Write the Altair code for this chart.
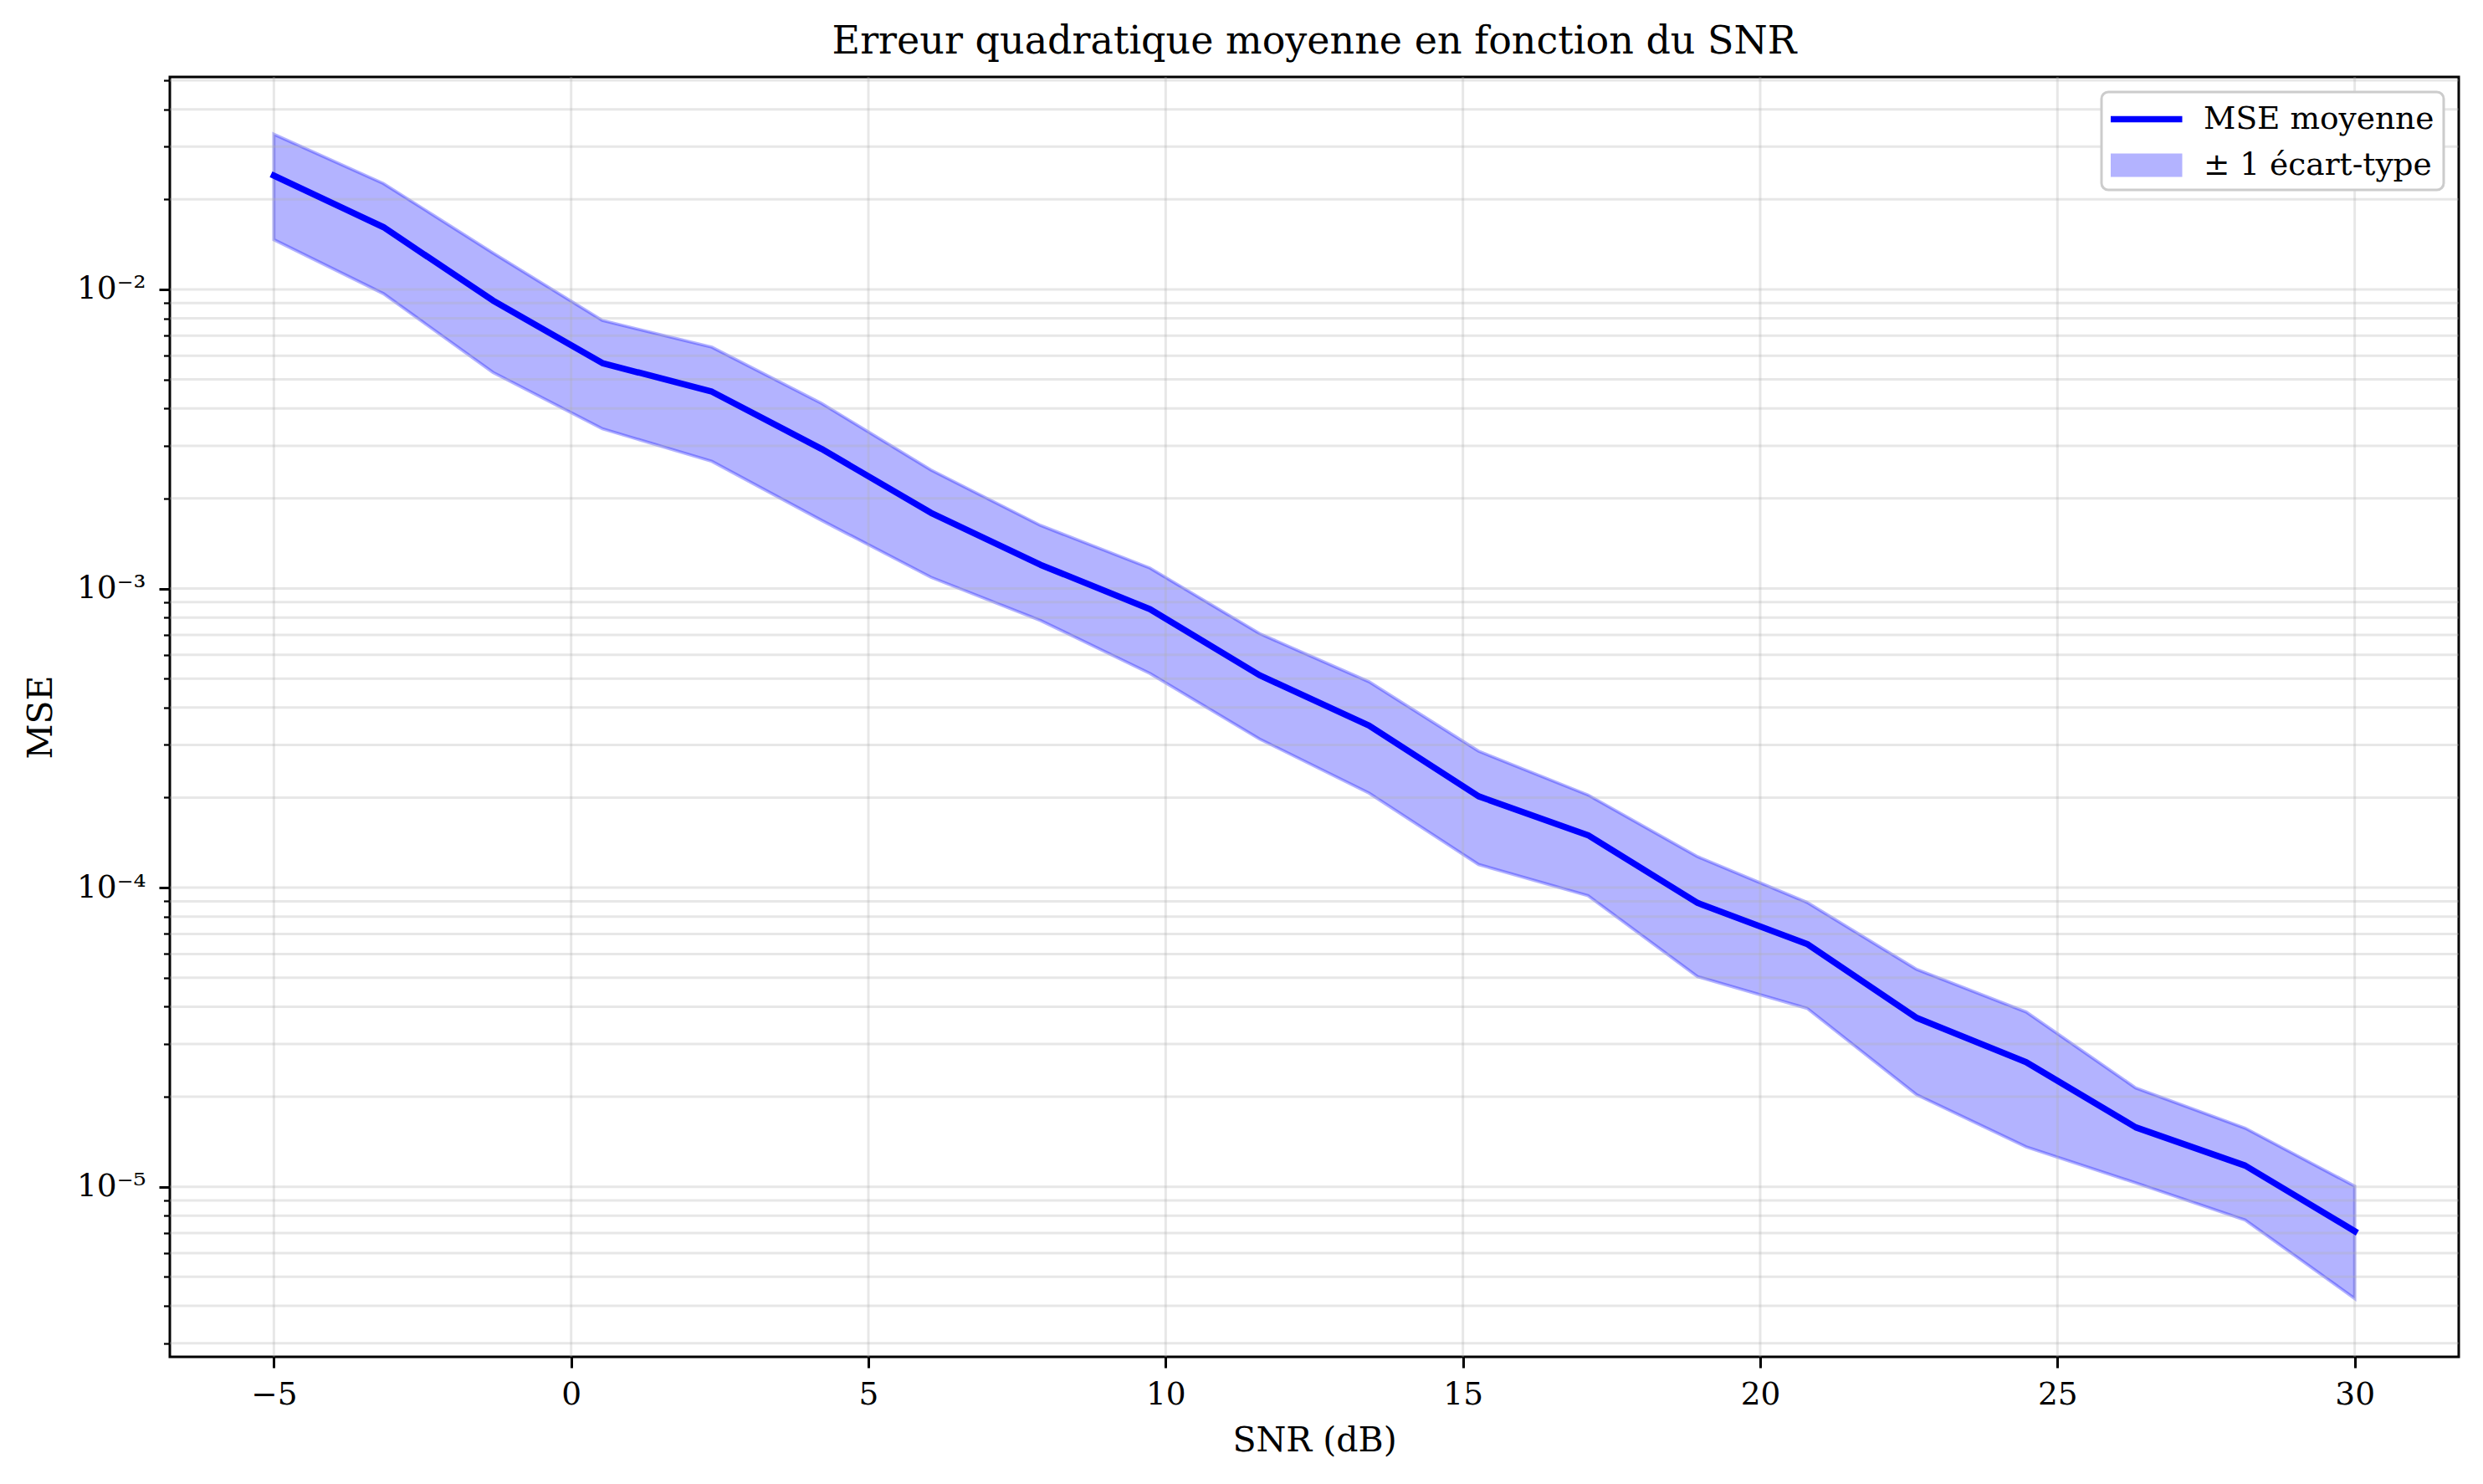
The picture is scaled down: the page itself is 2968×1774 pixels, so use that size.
import altair as alt
import pandas as pd

# valeurs (20 points de SNR)
snr_db = [-5.0, -3.158, -1.316, 0.526, 2.368, 4.211, 6.053, 7.895, 9.737, 11.579,
          13.421, 15.263, 17.105, 18.947, 20.789, 22.632, 24.474, 26.316, 28.158, 30.0]
mse_mean = [0.0240, 0.01615, 0.00918, 0.00567, 0.00455, 0.00293, 0.00179, 0.00120,
            0.000853, 0.000513, 0.000348, 0.000202, 0.0001497, 0.0000889, 0.0000648,
            0.0000367, 0.0000261, 0.0000158, 0.00001177, 0.0000071]
mse_upper = [0.0330, 0.0226, 0.01324, 0.00787, 0.00641, 0.00416, 0.00249, 0.001625,
             0.00117, 0.000707, 0.000488, 0.000286, 0.000204, 0.0001269, 0.0000893,
             0.0000533, 0.0000384, 0.0000214, 0.0000157, 0.00001005]
mse_lower = [0.01466, 0.00968, 0.00528, 0.00342, 0.00266, 0.00169, 0.00109, 0.000782,
             0.000520, 0.000314, 0.000207, 0.0001195, 0.0000940, 0.0000504, 0.0000395,
             0.0000203, 0.0000136, 0.0000103, 0.00000774, 0.00000423]

x_ticks = [-5, 0, 5, 10, 15, 20, 25, 30]
y_major = [1e-5, 1e-4, 1e-3, 1e-2]
y_minor = [3e-6, 4e-6, 5e-6, 6e-6, 7e-6, 8e-6, 9e-6,
           2e-5, 3e-5, 4e-5, 5e-5, 6e-5, 7e-5, 8e-5, 9e-5,
           2e-4, 3e-4, 4e-4, 5e-4, 6e-4, 7e-4, 8e-4, 9e-4,
           2e-3, 3e-3, 4e-3, 5e-3, 6e-3, 7e-3, 8e-3, 9e-3,
           2e-2, 3e-2, 4e-2, 5e-2]
y_ticks = sorted(y_major + y_minor)

series_names = ["MSE moyenne", "± 1 écart-type"]

FONT = "DejaVu Serif"
BLUE = "#0000ff"
BAND = "#b3b3ff"  # bleu à 30 % d'opacité sur fond blanc

df = pd.DataFrame({"snr": snr_db, "mse": mse_mean, "upper": mse_upper, "lower": mse_lower})
grid_y = pd.DataFrame({"mse": y_ticks})
grid_x = pd.DataFrame({"snr": x_ticks})

is_decade = "abs(log(datum.value) / LN10 - round(log(datum.value) / LN10)) < 0.001"
sup = "['⁰','¹','²','³','⁴','⁵','⁶','⁷','⁸','⁹']"
y_label = f"{is_decade} ? '10⁻' + {sup}[-round(log(datum.value) / LN10)] : ''"

x_scale = alt.Scale(domain=[-6.75, 31.75], nice=False, zero=False)
y_scale = alt.Scale(type="log", domain=[2.7e-6, 0.0513], nice=False)

x_axis = alt.Axis(
    values=x_ticks, grid=False, domain=False, format="d",
    tickColor="black", tickSize=13, tickWidth=3,
    labelFont=FONT, labelFontSize=37.5, labelColor="black", labelPadding=13,
    labelFlush=False, labelOverlap=False,
    title="SNR (dB)", titleFont=FONT, titleFontSize=41, titleFontWeight="normal",
    titleColor="black", titlePadding=17,
)
y_axis = alt.Axis(
    values=y_ticks, grid=False, domain=False,
    tickColor="black",
    tickSize={"condition": {"test": is_decade, "value": 13}, "value": 7.5},
    tickWidth={"condition": {"test": is_decade, "value": 3}, "value": 2.25},
    labelExpr=y_label, labelFont=FONT, labelFontSize=37.5, labelColor="black",
    labelPadding=16, labelOverlap=False, labelFlush=False,
    title="MSE", titleFont=FONT, titleFontSize=41, titleFontWeight="normal",
    titleColor="black", titlePadding=21,
)

# une seule légende : trait fin pour la moyenne, rectangle pour la bande
# (symbole de 40 px pour la mise en page, dessiné sur 83 px vers la droite)
is_line = "datum.value === 'MSE moyenne'"
line_path = "M-1,-0.1125H3.125V0.1125H-1Z"
patch_path = "M-1,-0.625H3.125V0.625H-1Z"
legend = alt.Legend(
    title=None, orient="top-right", offset=18,
    labelFont=FONT, labelFontSize=37.5, labelColor="black", labelLimit=1000,
    symbolSize=1600, labelOffset=68, padding=11, rowPadding=15,
    strokeColor="#cccccc", fillColor="white", cornerRadius=8,
    symbolType={"expr": f"{is_line} ? '{line_path}' : '{patch_path}'"},
    symbolFillColor={"expr": f"{is_line} ? '{BLUE}' : '{BAND}'"},
    symbolStrokeColor={"expr": f"{is_line} ? '{BLUE}' : '#8c8cff'"},
    symbolStrokeWidth=3,
    symbolOpacity=1,
)
color_scale = alt.Scale(domain=series_names, range=[BLUE, BAND])

x_enc = alt.X("snr:Q", scale=x_scale, axis=x_axis, title="SNR (dB)")

band = alt.Chart(df).transform_calculate(
    series="'± 1 écart-type'"
).mark_area(
    fillOpacity=1, stroke=BLUE, strokeOpacity=0.3, strokeWidth=3.75
).encode(
    x=x_enc,
    y=alt.Y("upper:Q", scale=y_scale, axis=y_axis, title="MSE"),
    y2="lower:Q",
    color=alt.Color("series:N", scale=color_scale, legend=legend),
)

grid_style = dict(color="#b0b0b0", opacity=0.3, strokeWidth=3)
hgrid = alt.Chart(grid_y).mark_rule(**grid_style).encode(
    y=alt.Y("mse:Q", scale=y_scale, axis=y_axis, title="MSE")
)
vgrid = alt.Chart(grid_x).mark_rule(**grid_style).encode(x=x_enc)

mean_line = alt.Chart(df).transform_calculate(
    series="'MSE moyenne'"
).mark_line(strokeWidth=7.5, strokeCap="square", strokeJoin="round").encode(
    x=x_enc,
    y=alt.Y("mse:Q", scale=y_scale, axis=y_axis, title="MSE"),
    color=alt.Color("series:N", scale=color_scale, legend=legend),
)

chart = alt.layer(band, hgrid, vgrid, mean_line).properties(
    width=2736,
    height=1530,
    autosize=alt.AutoSizeParams(type="none"),
    padding={"left": 195, "top": 84, "right": 21, "bottom": 144},
    title=alt.TitleParams(
        "Erreur quadratique moyenne en fonction du SNR",
        font=FONT, fontSize=46, fontWeight="normal", color="black",
        anchor="middle", frame="group", baseline="bottom", offset=15, dy=58,
    ),
    background="white",
).configure_view(stroke="black", strokeWidth=3).configure_legend(strokeWidth=3)

chart.save("out.html", embed_options={"renderer": "svg", "actions": False})
